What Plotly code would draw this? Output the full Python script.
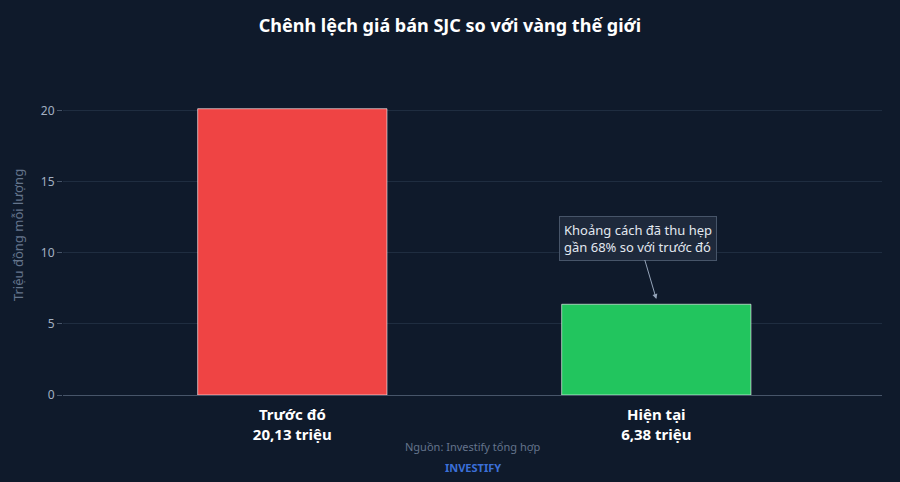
import plotly.graph_objects as go

categories = ["Trước đó<br>20,13 triệu", "Hiện tại<br>6,38 triệu"]
values = [20.13, 6.38]
colors = ["#ef4444", "#22c55e"]

bg = "#0f1a2b"
fig = go.Figure()
fig.add_trace(go.Bar(x=categories, y=values, width=0.52,
                     marker=dict(color=colors, line=dict(color="rgba(255,255,255,0.6)", width=1)),
                     hoverinfo="y"))

fig.add_annotation(x=categories[1], y=6.75, text="Khoảng cách đã thu hẹp<br>gần 68% so với trước đó",
                   showarrow=True, arrowhead=2, arrowsize=1, arrowwidth=1, arrowcolor="#94a3b8",
                   ax=-18, ay=-61, bgcolor="#1e293b", bordercolor="#475569", borderwidth=1, borderpad=4,
                   font=dict(color="#e2e8f0", size=13), align="left")
fig.add_annotation(xref="paper", yref="paper", x=0.5, y=-0.16, yanchor="middle",
                   text="Nguồn: Investify tổng hợp",
                   showarrow=False, font=dict(color="#64748b", size=11))
fig.add_annotation(xref="paper", yref="paper", x=0.5, y=-0.225, yanchor="middle",
                   text="<b>INVESTIFY</b>",
                   showarrow=False, font=dict(color="#3b6fd8", size=11))

fig.update_layout(
    width=900, height=482, paper_bgcolor=bg, plot_bgcolor=bg,
    font=dict(family="Noto Sans", color="#94a3b8"),
    title=dict(text="<b>Chênh lệch giá bán SJC so với vàng thế giới</b>", x=0.5, y=0.96,
               font=dict(size=18, color="#ffffff")),
    margin=dict(l=63, r=18, t=75, b=87),
    showlegend=False,
)
fig.update_xaxes(range=[-0.63, 1.62], tickfont=dict(size=15, color="#ffffff", family="Noto Sans"),
                 showline=True, linecolor="#475569", ticks="outside", ticklen=6, tickcolor="rgba(0,0,0,0)",
                 tickprefix="<b>", ticksuffix="</b>")
fig.update_yaxes(range=[0, 22.5], tickvals=[0, 5, 10, 15, 20], gridcolor="#1f2d40", zeroline=False,
                 ticks="outside", ticklen=5, tickcolor="#475569", tickfont=dict(size=12, color="#a3b0c2"),
                 title=dict(text="Triệu đồng mỗi lượng", standoff=14, font=dict(size=13, color="#64748b")))

fig.write_html("out.html", config={"displayModeBar": False},
               post_script="document.body.style.margin='0';document.body.style.overflow='hidden';")
